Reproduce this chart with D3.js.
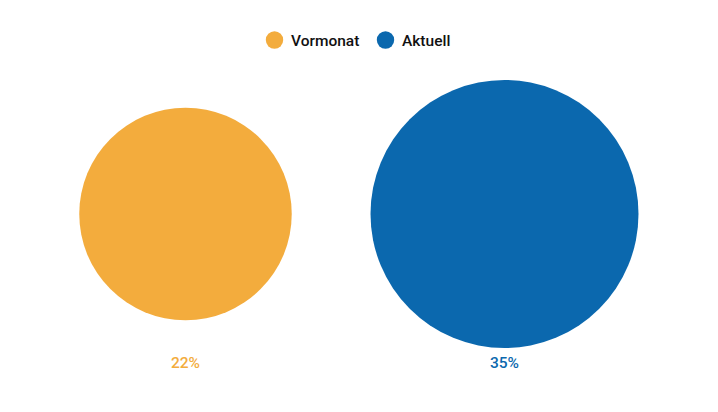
<!DOCTYPE html>
<html>
<head>
<meta charset="utf-8">
<script src="https://cdn.jsdelivr.net/npm/d3@7"></script>
<style>
  body { margin: 0; background: #fff; }
  text { font-family: Roboto, "Noto Sans", sans-serif; }
</style>
</head>
<body>
<div id="chart"></div>
<script>
// two circles, area ~ value, legend on top

let categories = ["Vormonat", "Aktuell"]
let values = [22, 35]
let colors = ["#F3AC3D", "#0B68AE"]

let width = 718
let height = 412

let svg = d3.select('#chart')
    .append('svg')
    .attr("width", width)
    .attr("height", height)

let x = d3.scaleBand()
    .domain(categories)
    .range([26, 664])

let r = d3.scaleSqrt()
    .domain([0, d3.max(values)])
    .range([0, 134])

let color = d3.scaleOrdinal()
    .domain(categories)
    .range(colors)

let data = categories.map((c, i) => ({name: c, value: values[i]}))
let cy = 214

svg.selectAll('.bubble')
    .data(data)
    .enter()
        .append('circle')
        .attr('class', 'bubble')
        .attr('cx', d => x(d.name) + x.bandwidth() / 2)
        .attr('cy', cy)
        .attr('r', d => r(d.value))
        .attr('fill', d => color(d.name))

svg.selectAll('.label')
    .data(data)
    .enter()
        .append('text')
        .attr('class', 'label')
        .attr('x', d => x(d.name) + x.bandwidth() / 2)
        .attr('y', 368)
        .attr('text-anchor', 'middle')
        .attr('font-size', 15.5)
        .attr('font-weight', 500)
        .attr('fill', d => color(d.name))
        .text(d => d.value + '%')

// legend
let legendX = [274.5, 385.5]
let legend = svg.selectAll('.legend')
    .data(categories)
    .enter()
        .append('g')
        .attr('class', 'legend')
        .attr('transform', (d, i) => `translate(${legendX[i]},40)`)

legend.append('circle')
    .attr('r', 8.7)
    .attr('fill', d => color(d))

legend.append('text')
    .attr('x', 16.5)
    .attr('y', 5.5)
    .attr('font-size', 15.5)
    .attr('font-weight', 500)
    .attr('fill', '#111')
    .text(d => d)
</script>
</body>
</html>
